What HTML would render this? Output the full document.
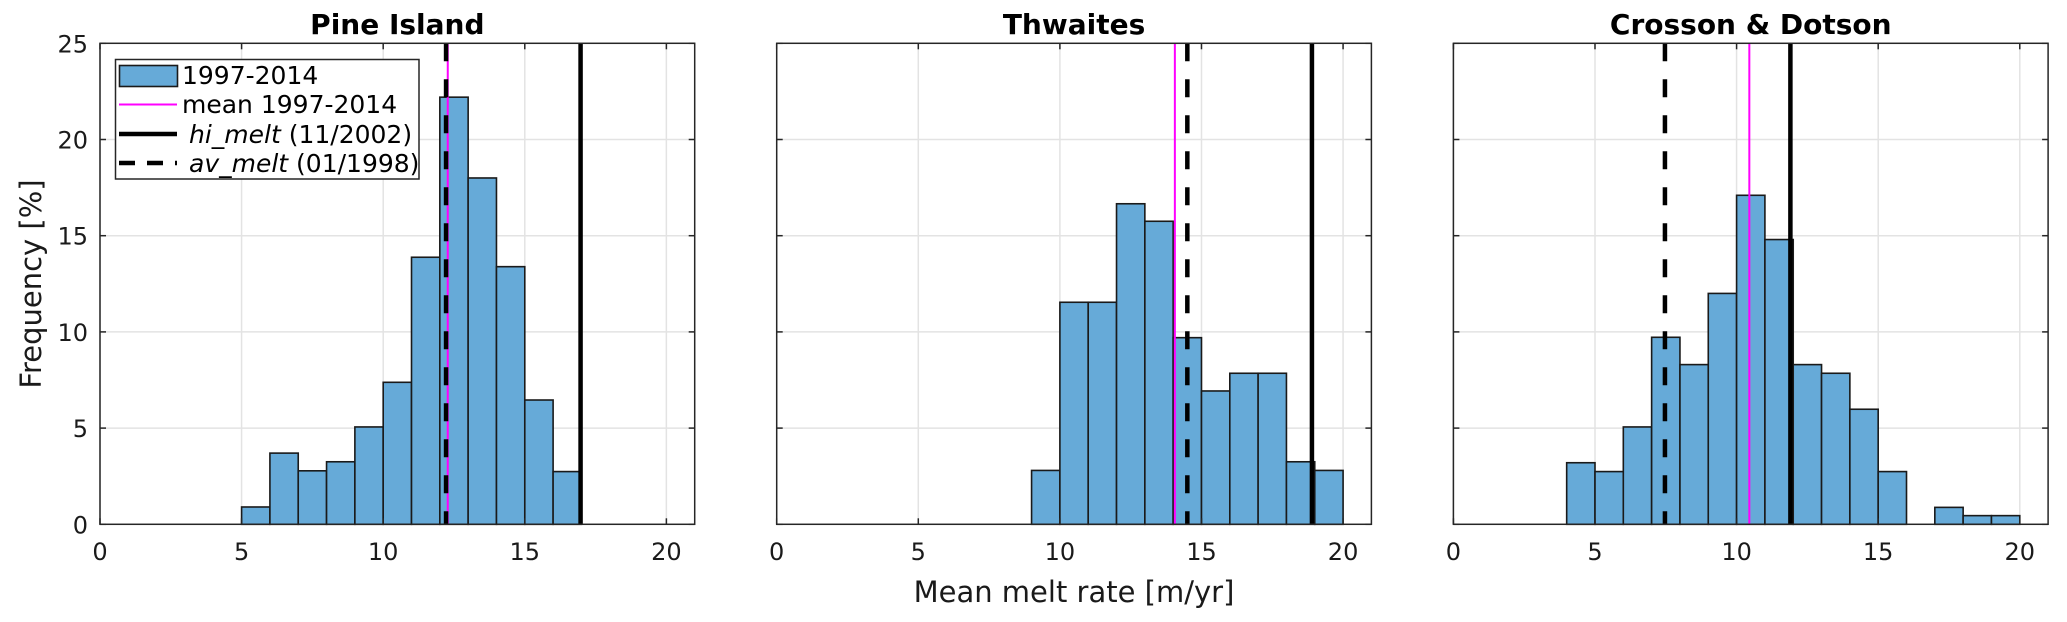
<!DOCTYPE html>
<html><head><meta charset="utf-8">
<style>
html,body{margin:0;padding:0;background:#fff;}
svg{display:block;font-family:"DejaVu Sans","Liberation Sans",sans-serif;}
</style></head>
<body>
<svg id="chart" width="2067" height="622" viewBox="0 0 2067 622" xmlns="http://www.w3.org/2000/svg"></svg>
<script>
// Bin edges: 0..20 step 1 (bin i covers [i, i+1])
const binStarts = [0,1,2,3,4,5,6,7,8,9,10,11,12,13,14,15,16,17,18,19];
const pineValues     = [0,0,0,0,0,0.9,3.7,2.78,3.25,5.06,7.38,13.88,22.2,18.0,13.39,6.46,2.74,0,0,0];
const thwaitesValues = [0,0,0,0,0,0,0,0,0,2.8,11.54,11.54,16.66,15.75,9.7,6.93,7.85,7.85,3.25,2.8];
const crossonValues  = [0,0,0,0,3.2,2.74,5.06,9.72,8.3,12.0,17.1,14.8,8.3,7.85,5.98,2.74,0,0.88,0.45,0.45];
const panelTitles = ["Pine Island","Thwaites","Crosson & Dotson"];
const meanValues = [12.28, 14.06, 10.45];
const hiMeltValues = [16.97, 18.9, 11.9];
const avMeltValues = [12.22, 14.5, 7.47];
const xTicks = [0,5,10,15,20];
const yTicks = [0,5,10,15,20,25];

const NS = "http://www.w3.org/2000/svg";
const svg = document.getElementById("chart");
function mk(tag, attrs, parent){
  const e = document.createElementNS(NS, tag);
  for (const k in attrs) e.setAttribute(k, attrs[k]);
  (parent||svg).appendChild(e);
  return e;
}
const panelLefts = [100, 776.7, 1453.4];
const panelW = 594.7, plotTop = 43.3, plotBottom = 524.3;
const xMax = 21, yMax = 25;
const allValues = [pineValues, thwaitesValues, crossonValues];
const slugs = ["pine-island","thwaites","crosson-dotson"];

for (let p = 0; p < 3; p++) {
  const L = panelLefts[p];
  const sx = v => L + v / xMax * panelW;
  const sy = v => plotBottom - v / yMax * (plotBottom - plotTop);
  const g = mk("g", {});
  
  
  xTicks.forEach(t => {
    const l = mk("line", {x1:sx(t), x2:sx(t), y1:plotTop, y2:plotBottom, stroke:"#e3e3e3", "stroke-width":1.5}, g);
    
    
  });
  yTicks.forEach(t => {
    const l = mk("line", {x1:L, x2:L+panelW, y1:sy(t), y2:sy(t), stroke:"#e3e3e3", "stroke-width":1.5}, g);
    
    
  });
  const vals = allValues[p];
  binStarts.forEach((b, i) => {
    if (vals[i] <= 0) return;
    const r = mk("rect", {x:sx(b), y:sy(vals[i]), width:sx(b+1)-sx(b), height:sy(0)-sy(vals[i]),
      fill:"#66aad8", stroke:"#1a1a1a", "stroke-width":1.6}, g);
    
    
  });
  const ml = mk("line", {x1:sx(meanValues[p]), x2:sx(meanValues[p]), y1:plotTop, y2:plotBottom, stroke:"#ff00ff", "stroke-width":2}, g);
  
  
  const hl = mk("line", {x1:sx(hiMeltValues[p]), x2:sx(hiMeltValues[p]), y1:plotTop, y2:plotBottom, stroke:"#000", "stroke-width":4.5}, g);
  
  
  const al = mk("line", {x1:sx(avMeltValues[p]), x2:sx(avMeltValues[p]), y1:plotTop, y2:plotBottom, stroke:"#000", "stroke-width":4.5, "stroke-dasharray":"18,18"}, g);
  
  
  const box = mk("rect", {x:L, y:plotTop, width:panelW, height:plotBottom-plotTop, fill:"none", stroke:"#262626", "stroke-width":1.5}, g);
  
  
  xTicks.forEach(t => {
    const a = mk("line", {x1:sx(t), x2:sx(t), y1:plotBottom, y2:plotBottom-6, stroke:"#262626", "stroke-width":1.5}, g);
    
    
    const b = mk("line", {x1:sx(t), x2:sx(t), y1:plotTop, y2:plotTop+6, stroke:"#262626", "stroke-width":1.5}, g);
    
    
    const tx = mk("text", {x:sx(t), y:560, "text-anchor":"middle", "font-size":24, fill:"#1a1a1a"}, g);
    tx.textContent = t;
    
    
  });
  yTicks.forEach(t => {
    const a = mk("line", {x1:L, x2:L+6, y1:sy(t), y2:sy(t), stroke:"#262626", "stroke-width":1.5}, g);
    
    
    const b = mk("line", {x1:L+panelW, x2:L+panelW-6, y1:sy(t), y2:sy(t), stroke:"#262626", "stroke-width":1.5}, g);
    
    
    if (p === 0) {
      const tx = mk("text", {x:L-12, y:sy(t)+9, "text-anchor":"end", "font-size":24, fill:"#1a1a1a"}, g);
      tx.textContent = t;
      
      
    }
  });
  const tt = mk("text", {x:L+panelW/2, y:34, "text-anchor":"middle", "font-size":28, "font-weight":"bold", fill:"#000"}, g);
  tt.textContent = panelTitles[p];
  
  
}
const xl = mk("text", {x:1074, y:602, "text-anchor":"middle", "font-size":29, fill:"#1a1a1a"});
xl.textContent = "Mean melt rate [m/yr]";


const yl = mk("text", {x:0, y:0, "text-anchor":"middle", "font-size":29, fill:"#1a1a1a", transform:"translate(41,284) rotate(-90)"});
yl.textContent = "Frequency [%]";



const lg = mk("g", {});


const lb = mk("rect", {x:115.5, y:59.5, width:303.5, height:119.5, fill:"#fff", stroke:"#262626", "stroke-width":1.5}, lg);


const e1 = mk("rect", {x:119.5, y:65.5, width:58, height:21, fill:"#66aad8", stroke:"#1a1a1a", "stroke-width":1.6}, lg);


const e2 = mk("line", {x1:119, x2:177, y1:104.5, y2:104.5, stroke:"#ff00ff", "stroke-width":2}, lg);


const e3 = mk("line", {x1:119, x2:177, y1:134, y2:134, stroke:"#000", "stroke-width":4.5}, lg);


const e4 = mk("line", {x1:119, x2:177, y1:163, y2:163, stroke:"#000", "stroke-width":4.5, "stroke-dasharray":"16,12"}, lg);


const t1 = mk("text", {x:182, y:84, "font-size":25, fill:"#000"}, lg);
t1.textContent = "1997-2014";


const t2 = mk("text", {x:182, y:113, "font-size":25, fill:"#000"}, lg);
t2.textContent = "mean 1997-2014";


const t3 = mk("text", {x:189, y:143, "font-size":25, fill:"#000"}, lg);


const t3a = mk("tspan", {"font-style":"italic"}, t3); t3a.textContent = "hi_melt";
const t3b = mk("tspan", {}, t3); t3b.textContent = " (11/2002)";
const t4 = mk("text", {x:189, y:172, "font-size":25, fill:"#000"}, lg);


const t4a = mk("tspan", {"font-style":"italic"}, t4); t4a.textContent = "av_melt";
const t4b = mk("tspan", {}, t4); t4b.textContent = " (01/1998)";
</script>
</body></html>
